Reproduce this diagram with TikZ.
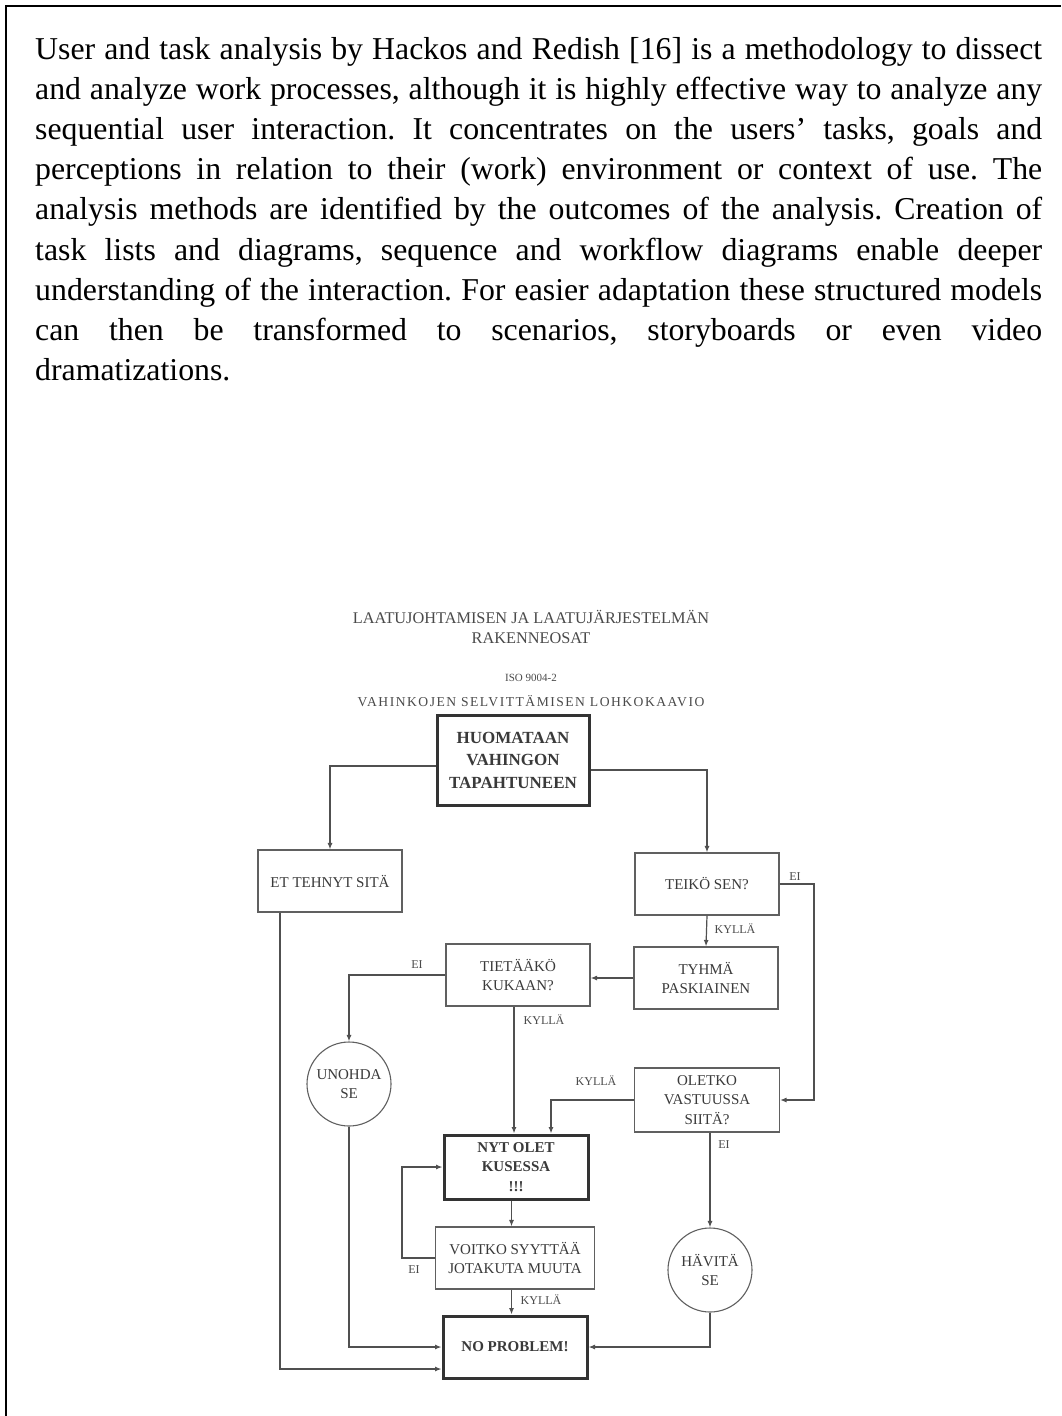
\documentclass[tikz,border=0pt]{standalone}
\usepackage{fontspec}
\setmainfont{Liberation Serif}
\usetikzlibrary{arrows.meta}

\definecolor{linegray}{HTML}{505050}
\definecolor{boxgray}{HTML}{606060}
\definecolor{heavygray}{HTML}{333333}
\definecolor{txtgray}{HTML}{3A3A3A}
\definecolor{lblgray}{HTML}{4A4A4A}

\newcommand\bxfont{\fontsize{15}{19.5}\selectfont}
\newcommand\lbfont{\fontsize{12}{14}\selectfont}

\begin{document}
\begin{tikzpicture}[x=1pt,y=-1pt,
  line/.style={draw=linegray, line width=1.2pt},
  arr/.style={line, -{Latex[length=6.5pt,width=5pt]}},
  thinbox/.style={draw=boxgray, line width=1.1pt, fill=white, align=center,
    inner sep=0pt, text=txtgray, font=\bxfont},
  thickbox/.style={thinbox, draw=heavygray, line width=3pt, font=\bxfont\bfseries},
  ring/.style={thinbox, circle, minimum size=84pt},
  lbl/.style={text=lblgray, font=\lbfont, inner sep=0pt},
  head/.style={text=lblgray, inner sep=0pt, align=center}
]
\useasboundingbox (0,0) rectangle (1061,1416);
\fill[white] (0,0) rectangle (1061,1416);

% page frame: top and left rules
\draw[line width=2pt, black] (6,1416) -- (6,6) -- (1061,6);

% introductory paragraph
\node[anchor=base west, inner sep=0pt] (intro) at (35,59) {\vtop{\hsize=1007pt
  \parindent=0pt \tolerance=10000 \hyphenpenalty=10000 \frenchspacing
  \fontsize{31.8}{40.2}\selectfont
  User and task analysis by Hackos and Redish [16] is a methodology to dissect\linebreak
  and analyze work processes, although it is highly effective way to analyze any\linebreak
  sequential user interaction. It concentrates on the users’ tasks, goals and\linebreak
  perceptions in relation to their (work) environment or context of use. The\linebreak
  analysis methods are identified by the outcomes of the analysis. Creation of\linebreak
  task lists and diagrams, sequence and workflow diagrams enable deeper\linebreak
  understanding of the interaction. For easier adaptation these structured models\linebreak
  can then be transformed to scenarios, storyboards or even video\linebreak
  dramatizations.\par}};

% chart headings
\node[head, font=\fontsize{16.3}{20.5}\selectfont] (title) at (531,627)
  {LAATUJOHTAMISEN JA LAATUJÄRJESTELMÄN\\RAKENNEOSAT};
\node[head, font=\fontsize{11}{13}\selectfont] (iso) at (531,678) {ISO 9004-2};
\node[head, font=\fontsize{13.6}{15}\selectfont\addfontfeature{LetterSpace=11}] (sub)
  at (531,701) {VAHINKOJEN SELVITTÄMISEN LOHKOKAAVIO};

% boxes
\node[thickbox, minimum width=152pt, minimum height=90pt,
  font=\fontsize{17}{22.5}\selectfont\bfseries] (huom) at (513,760)
  {HUOMATAAN\\VAHINGON\\TAPAHTUNEEN};
\node[thinbox, minimum width=144pt, minimum height=62pt] (etteh) at (330,881)
  {ET TEHNYT SITÄ};
\node[thinbox, minimum width=144pt, minimum height=62pt] (teiko) at (707,884)
  {TEIKÖ SEN?};
\node[thinbox, minimum width=144pt, minimum height=62pt] (tyhma) at (706,978)
  {TYHMÄ\\PASKIAINEN};
\node[thinbox, minimum width=144pt, minimum height=62pt] (tieta) at (518,975)
  {TIETÄÄKÖ\\KUKAAN?};
\node[ring] (unohda) at (349,1084) {UNOHDA\\SE};
\node[thinbox, minimum width=145pt, minimum height=64pt] (oletko) at (707,1100)
  {OLETKO\\VASTUUSSA\\SIITÄ?};
\node[thickbox, minimum width=144pt, minimum height=64pt] (nyt) at (516,1167)
  {NYT OLET\\KUSESSA\\!!!};
\node[thinbox, minimum width=159pt, minimum height=62pt] (voitko) at (515,1258)
  {VOITKO SYYTTÄÄ\\JOTAKUTA MUUTA};
\node[ring] (havita) at (710,1270) {HÄVITÄ\\SE};
\node[thickbox, minimum width=144pt, minimum height=62pt] (nopro) at (515,1347)
  {NO PROBLEM!};

% routing columns and rows
\coordinate (rcol) at (814,0);
\coordinate (kcol) at (514,0);
\coordinate (ycol) at (551,0);
\coordinate (mcol) at (511.5,0);
\coordinate (lcol) at (402,0);
\coordinate (fcol) at (280,0);
\coordinate (frow) at (0,1369);
\coordinate (hlrow) at (0,766);
\coordinate (hrrow) at (0,770);

% connectors
\draw[arr] (huom.west |- hlrow) -| (etteh.north);
\draw[arr] (huom.east |- hrrow) -| (teiko.north);
\draw[arr] (teiko.south) -- (tyhma.north);
\draw[arr] (teiko.east) -- (teiko.east -| rcol) |- (oletko.east);
\draw[arr] (tyhma.west) -- (tyhma.west -| tieta.east);
\draw[arr] (tieta.west) -| (unohda.north);
\draw[arr] (tieta.south -| kcol) -- (nyt.north -| kcol);
\draw[arr] (oletko.west) -| (nyt.north -| ycol);
\draw[arr] (havita.north |- oletko.south) -- (havita.north);
\draw[arr] (nyt.south -| mcol) -- (voitko.north -| mcol);
\draw[arr] (voitko.west) -- (voitko.west -| lcol) |- (nyt.west);
\draw[arr] (voitko.south -| mcol) -- (nopro.north -| mcol);
\draw[arr] (unohda.south) |- (nopro.west);
\draw[arr] (etteh.south -| fcol) |- (nopro.west |- frow);
\draw[arr] (havita.south) |- (nopro.east);

% branch labels
\node[lbl] (l1) at (735,929) {KYLLÄ};
\node[lbl] (l2) at (795,877) {EI};
\node[lbl] (l3) at (417,965) {EI};
\node[lbl] (l4) at (544,1020) {KYLLÄ};
\node[lbl] (l5) at (596,1081) {KYLLÄ};
\node[lbl] (l6) at (724,1145) {EI};
\node[lbl] (l7) at (414,1270) {EI};
\node[lbl] (l8) at (541,1300) {KYLLÄ};
\end{tikzpicture}
\end{document}
